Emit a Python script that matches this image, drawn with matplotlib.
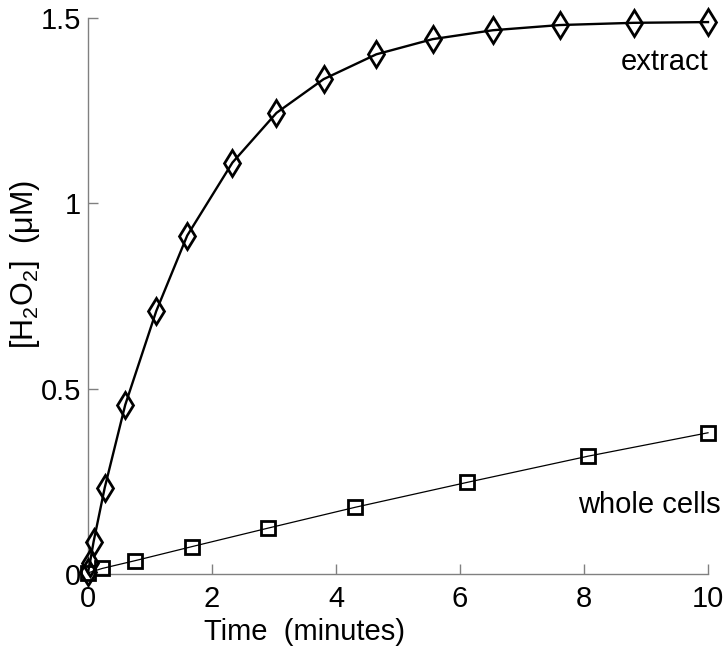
import matplotlib
matplotlib.use("Agg")
import matplotlib.pyplot as plt

plt.rcParams['font.family'] = ['Liberation Sans', 'DejaVu Sans']
plt.rcParams['mathtext.fontset'] = 'custom'
plt.rcParams['mathtext.rm'] = 'Liberation Sans'
plt.rcParams['mathtext.it'] = 'Liberation Sans:italic'

# extract (diamonds)
extract_t = [0.0, 0.03, 0.09, 0.27, 0.60, 1.10, 1.60, 2.33, 3.04, 3.80, 4.65, 5.56, 6.53, 7.61, 8.80, 10.0]
extract_y = [0.005, 0.029, 0.087, 0.233, 0.456, 0.709, 0.913, 1.110, 1.244, 1.335, 1.402, 1.443, 1.467, 1.481, 1.487, 1.489]

# whole cells (squares)
cells_t = [0.0, 0.23, 0.76, 1.68, 2.91, 4.31, 6.11, 8.07, 10.0]
cells_y = [0.003, 0.015, 0.036, 0.074, 0.124, 0.180, 0.247, 0.318, 0.381]

x_ticks = [0, 2, 4, 6, 8, 10]
y_ticks = [0, 0.5, 1, 1.5]
y_ticklabels = ['0', '0.5', '1', '1.5']

fig = plt.figure(figsize=(7.28, 6.5), dpi=100)
ax = fig.add_axes([88/728, 76/650, (708-88)/728, (574-18)/650])

ax.plot(extract_t, extract_y, color='black', lw=1.7, marker='d', ms=13.5,
        mfc='none', mec='black', mew=2.0, clip_on=False, zorder=3)
ax.plot(cells_t, cells_y, color='black', lw=0.9, marker='s', ms=9.5,
        mfc='none', mec='black', mew=2.0, clip_on=False, zorder=3)

ax.set_xlim(0, 10)
ax.set_ylim(0, 1.5)
ax.set_xticks(x_ticks)
ax.set_xticklabels([str(v) for v in x_ticks])
ax.set_yticks(y_ticks)
ax.set_yticklabels(y_ticklabels)

for s in ['top', 'right']:
    ax.spines[s].set_visible(False)
for s in ['left', 'bottom']:
    ax.spines[s].set_color('#808080')
    ax.spines[s].set_linewidth(1.0)

ax.tick_params(axis='both', direction='in', length=7, width=1.0, color='#808080',
               labelsize=21, labelcolor='black')
ax.tick_params(axis='x', pad=8)
ax.tick_params(axis='y', pad=5)

ax.text(10.0, 1.38, 'extract', fontsize=21, ha='right', va='center')
ax.text(10.2, 0.185, 'whole cells', fontsize=21, ha='right', va='center')

fig.text(304/728, 1 - 632/650, 'Time  (minutes)', fontsize=21, ha='center', va='center')
fig.text(25/728, 1 - 264/650, r'[H$_2$O$_2$]  (μM)', fontsize=22, ha='center', va='center',
         rotation=90)

fig.savefig('out.png', dpi=100, facecolor='white')
